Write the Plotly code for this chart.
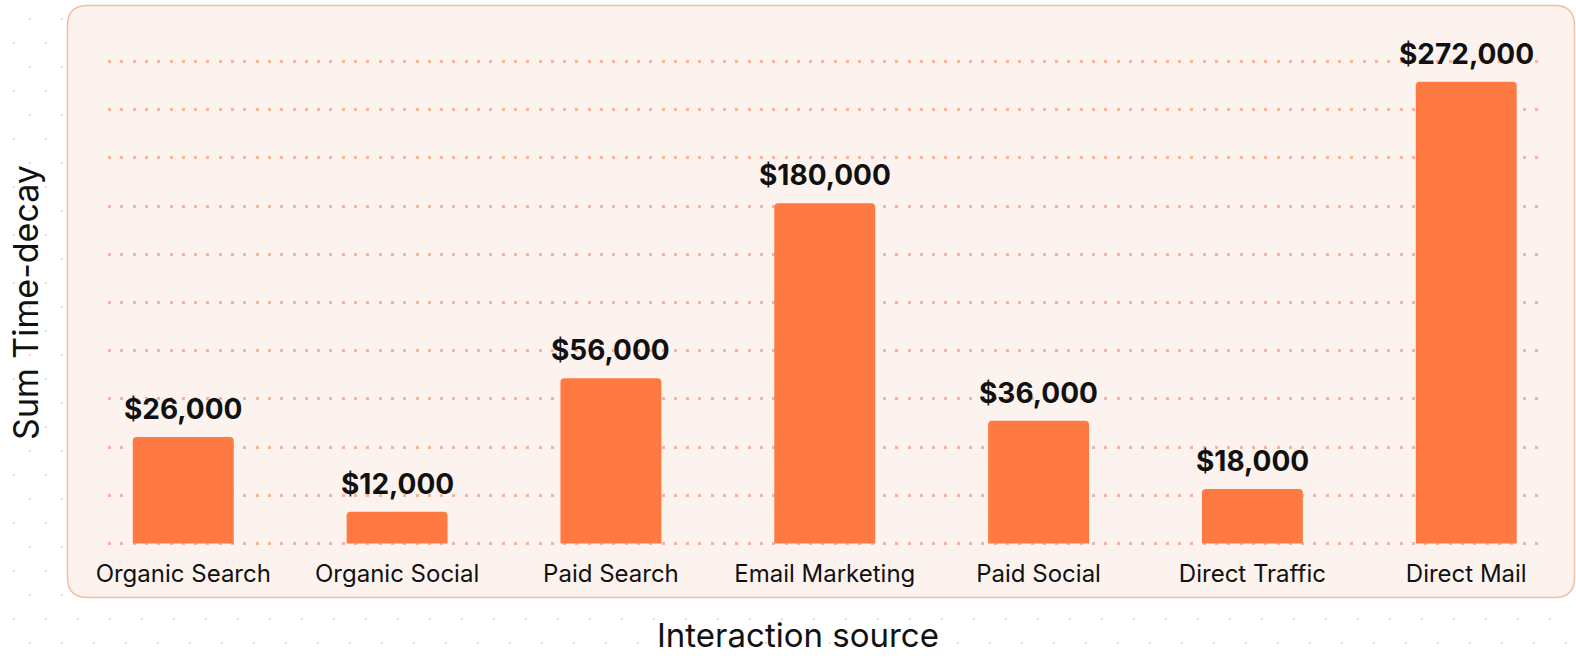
import base64
import plotly.graph_objects as go

# ---- data ----
categories = ["Organic Search", "Organic Social", "Paid Search", "Email Marketing",
              "Paid Social", "Direct Traffic", "Direct Mail"]
# bar heights as drawn (in grid units of the chart's value axis)
bar_heights = [2.21, 0.66, 3.43, 7.06, 2.55, 1.13, 9.58]
value_labels = ["$26,000", "$12,000", "$56,000", "$180,000", "$36,000", "$18,000", "$272,000"]
x_title = "Interaction source"
y_title = "Sum Time-decay"

W, H = 1576, 658
ML, MR, MT, MB = 108, 36, 59, 112
PW, PH = W - ML - MR, H - MT - MB


def px(x):
    return (x - ML) / PW


def py(y):
    return (H - MB - y) / PH


BAR = "#FF7A42"
TEXT = "#111111"

fig = go.Figure()
fig.add_trace(go.Bar(
    x=categories, y=bar_heights, marker=dict(color=BAR, line=dict(width=0)),
    hoverinfo="skip",
))

for c, h, t in zip(categories, bar_heights, value_labels):
    fig.add_annotation(x=c, y=h, text=f"<b>{t}</b>", showarrow=False,
                       yanchor="middle", yshift=28,
                       font=dict(family="Inter", size=28, color=TEXT))

# x-axis title (centred on the page, as in the reference)
fig.add_annotation(text=x_title, xref="paper", yref="paper", x=px(798), y=py(635),
                   xanchor="center", yanchor="middle", showarrow=False,
                   font=dict(family="Inter", size=33, color=TEXT))

# background dot texture
svg = (f'<svg xmlns="http://www.w3.org/2000/svg" width="{W}" height="{H}">'
       '<defs><pattern id="p" width="32" height="48" patternUnits="userSpaceOnUse">'
       '<circle cx="30" cy="19" r="1.1" fill="#d4d4d4"/>'
       '<circle cx="14" cy="43" r="1.1" fill="#d4d4d4"/>'
       '</pattern></defs>'
       f'<rect width="{W}" height="{H}" fill="url(#p)"/></svg>')
src = "data:image/svg+xml;base64," + base64.b64encode(svg.encode()).decode()
fig.add_layout_image(source=src, xref="paper", yref="paper", x=px(0), y=py(0),
                     sizex=W / PW, sizey=H / PH, sizing="stretch",
                     xanchor="left", yanchor="top", layer="below")

# rounded panel
x0, x1, y0, y1, r = 67.5, 1574.5, 5.5, 597.5, 20
path = (f"M {px(x0 + r)},{py(y0)} L {px(x1 - r)},{py(y0)} "
        f"Q {px(x1)},{py(y0)} {px(x1)},{py(y0 + r)} "
        f"L {px(x1)},{py(y1 - r)} Q {px(x1)},{py(y1)} {px(x1 - r)},{py(y1)} "
        f"L {px(x0 + r)},{py(y1)} Q {px(x0)},{py(y1)} {px(x0)},{py(y1 - r)} "
        f"L {px(x0)},{py(y0 + r)} Q {px(x0)},{py(y0)} {px(x0 + r)},{py(y0)} Z")
fig.add_shape(type="path", path=path, xref="paper", yref="paper", layer="below",
              fillcolor="#FDF3EE", line=dict(color="#F4BEA2", width=1.5))

fig.update_layout(
    width=W, height=H,
    margin=dict(l=ML, r=MR, t=MT, b=MB),
    paper_bgcolor="white", plot_bgcolor="rgba(0,0,0,0)",
    bargap=0.528, barcornerradius=4, showlegend=False,
    font=dict(family="Inter", color=TEXT),
)
fig.update_xaxes(
    range=[-0.352, 6.345], showgrid=False, zeroline=False, showline=False,
    ticks="", ticklabelstandoff=11,
    tickfont=dict(family="Inter", size=24, color=TEXT),
    automargin=False,
)
fig.update_yaxes(
    range=[-0.05, 10.05], tick0=0, dtick=1, showgrid=True, gridcolor="#F5B59B", gridwidth=3,
    griddash="3px,9.3px", zeroline=False, showline=False, showticklabels=False,
    ticks="",
    title=dict(text=y_title, font=dict(family="Inter", size=34, color=TEXT),
               standoff=58),
    automargin=False,
)

fig.write_html("out.html")
